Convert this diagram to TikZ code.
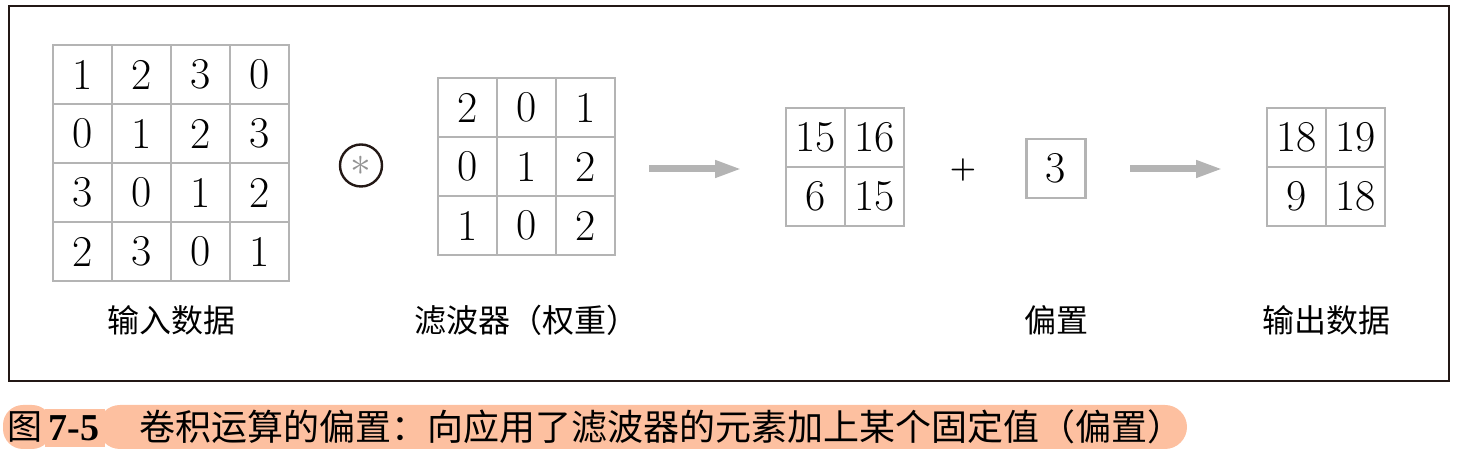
\documentclass[tikz,border=0pt]{standalone}
\usepackage{fontspec}
\usetikzlibrary{arrows.meta}
\newfontfamily\cjk{Noto Sans CJK SC}
\newfontfamily\capnum{Liberation Serif}
\definecolor{gridgray}{RGB}{180,180,180}
\definecolor{framedark}{RGB}{35,24,21}
\definecolor{capfill}{RGB}{253,192,160}
\tikzset{
    cell/.style={
        draw=gridgray,
        line width=1.3pt,
        minimum size=29.5pt,
        inner sep=0pt,
        outer sep=0pt,
        font=\fontsize{22}{26}\selectfont
    },
    lbl/.style={font=\cjk\fontsize{16}{19}\selectfont, inner sep=0pt},
    flow/.style={
        draw=gridgray,
        line width=3.5pt,
        -{Triangle[length=13.5pt,width=8pt]}
    }
}

\begin{document}
\begin{tikzpicture}[x=0.5pt, y=-0.5pt]
\useasboundingbox (0,0) rectangle (1458,458);

% outer frame:
\draw [framedark, line width=1.3pt] (9,6) rectangle (1449,381);

% input data 4x4
\foreach \row [count=\r] in {{1,2,3,0},{0,1,2,3},{3,0,1,2},{2,3,0,1}} {
  \foreach \v [count=\c] in \row {
    \node [cell] (in-\r-\c) at ({23.5+59*\c}, {15.5+59*\r}) {\v};
  }
}
\node [lbl] (inlabel) at (171,320) {输入数据};

% convolution sign
\node [circle, draw=framedark, line width=1.2pt, minimum size=21pt, inner sep=0pt]
  (conv) at (361,165.5) {\fontsize{21}{22}\selectfont\color{gray!85}$\ast$};

% filter 3x3
\foreach \row [count=\r] in {{2,0,1},{0,1,2},{1,0,2}} {
  \foreach \v [count=\c] in \row {
    \node [cell] (flt-\r-\c) at ({408.5+59*\c}, {48.5+59*\r}) {\v};
  }
}
\node [lbl] (fltlabel) at (526,320) {滤波器（权重）};

\coordinate (a1s) at (649,169);
\coordinate (a1e) at (742,169);
\draw [flow] (a1s) -- (a1e);

% result 2x2
\foreach \row [count=\r] in {{15,16},{6,15}} {
  \foreach \v [count=\c] in \row {
    \node [cell] (res-\r-\c) at ({756.5+59*\c}, {78.5+59*\r}) {\v};
  }
}

\node [font=\bfseries\fontsize{15}{18}\selectfont, inner sep=0pt] (plus) at (963,170) {+};

% bias
\node [cell] (bias) at (1056,168.5) {3};
\node [lbl] (biaslabel) at (1056,320) {偏置};

\coordinate (a2s) at (1130,169);
\coordinate (a2e) at (1223,169);
\draw [flow] (a2s) -- (a2e);

% output 2x2
\foreach \row [count=\r] in {{18,19},{9,18}} {
  \foreach \v [count=\c] in \row {
    \node [cell] (out-\r-\c) at ({1237.5+59*\c}, {78.5+59*\r}) {\v};
  }
}
\node [lbl] (outlabel) at (1326,320) {输出数据};

% caption band
\fill [capfill, rounded corners=10pt] (3,405) rectangle (52,449);
\fill [capfill] (45,409) rectangle (105,447);
\fill [capfill, rounded corners=11pt] (98,405) rectangle (1187,449);
\node [font=\cjk\fontsize{17.5}{20}\selectfont, inner sep=0pt] (capfig) at (25,427) {图};
\node [font=\capnum\bfseries\fontsize{19}{22}\selectfont, inner sep=0pt] (capnum) at (74,428) {7-5};
\node [anchor=west, font=\cjk\fontsize{18}{20}\selectfont, inner sep=0pt]
  (captext) at (139,427) {卷积运算的偏置：向应用了滤波器的元素加上某个固定值（偏置）};

\end{tikzpicture}
\end{document}
